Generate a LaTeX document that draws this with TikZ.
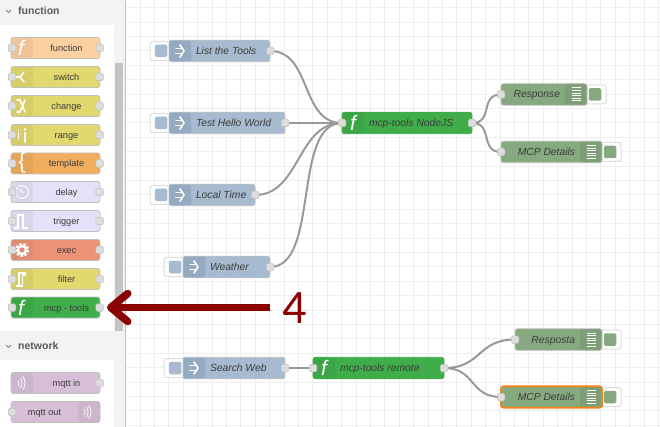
\documentclass[tikz,border=0pt]{standalone}
\usepackage{fontspec}
\setmainfont{Liberation Sans}
\newfontfamily\numfont{Carlito}
\usetikzlibrary{arrows.meta,backgrounds}

\definecolor{gridc}{HTML}{EEEEEE}
\definecolor{headc}{HTML}{F3F3F3}
\definecolor{scrollc}{HTML}{C4C4C4}
\definecolor{labelc}{HTML}{3C3C3C}
\definecolor{edgec}{HTML}{C0C0C0}
\definecolor{wirec}{HTML}{999999}
\definecolor{portc}{HTML}{DDDDDD}
\definecolor{funcc}{HTML}{FDD0A2}
\definecolor{funcd}{HTML}{F0C498}
\definecolor{yelc}{HTML}{E2D96E}
\definecolor{yeld}{HTML}{D6CE68}
\definecolor{tempc}{HTML}{F0AE5E}
\definecolor{tempd}{HTML}{E4A559}
\definecolor{lavc}{HTML}{E6E0F8}
\definecolor{lavd}{HTML}{DAD5EB}
\definecolor{execc}{HTML}{EC9377}
\definecolor{execd}{HTML}{E08C71}
\definecolor{mcpc}{HTML}{3FAD4A}
\definecolor{mcpd}{HTML}{3CA546}
\definecolor{mqttc}{HTML}{D8BFD8}
\definecolor{mqttd}{HTML}{CDB5CD}
\definecolor{injc}{HTML}{A6BBCF}
\definecolor{injd}{HTML}{94AAC0}
\definecolor{dbgc}{HTML}{87A980}
\definecolor{dbgd}{HTML}{7D9E77}
\definecolor{arrowc}{HTML}{8B0000}
\definecolor{selc}{HTML}{FF7F0E}

\tikzset{
  flownode/.style={rectangle,rounded corners=2.5pt,draw=edgec,line width=0.8pt,
    minimum height=21.5pt,inner sep=0pt,text=labelc,text height=8pt,text depth=1pt,
    font=\fontsize{10.3}{12}\selectfont\itshape},
  palnode/.style={flownode,minimum height=21pt,minimum width=89pt,font=\fontsize{9.2}{11}\selectfont},
  tableft/.style 2 args={fill=#1,path picture={\fill[#2] (path picture bounding box.north west)
    rectangle ([xshift=22pt]path picture bounding box.south west);}},
  tabright/.style 2 args={fill=#1,path picture={\fill[#2] (path picture bounding box.north east)
    rectangle ([xshift=-22pt]path picture bounding box.south east);}},
  port/.style={rectangle,rounded corners=1.5pt,draw=edgec,fill=portc,line width=0.5pt,
    minimum size=7.5pt,inner sep=0pt},
  button/.style={rectangle,rounded corners=2.5pt,draw=portc,fill=white,line width=1pt,
    minimum height=19pt,minimum width=22pt,inner sep=0pt},
  buttonin/.style={rectangle,rounded corners=1.5pt,fill=#1,minimum size=12.5pt,inner sep=0pt},
  wire/.style={draw=wirec,line width=2pt,to path={.. controls +(#1,0) and +(-#1,0) .. (\tikztotarget)}},
  header/.style={font=\fontsize{10.5}{12}\selectfont\bfseries,text=labelc!85!white,anchor=west,inner sep=0pt},
  icon/.style={white,line width=1.3pt,line cap=round,line join=round},
  pics/func/.style={code={\node[white,inner sep=0pt,font=\fontsize{21}{21}\selectfont] at (0,0) {$\mathit{f}$};}},
  pics/inject/.style={code={
    \draw[icon,line width=1.7pt] (-4,-2.5) -- (2,-2.5) (-4,2.5) -- (2,2.5);
    \draw[icon,line width=1.7pt] (0,-6) -- (4,0) -- (0,6);}},
  pics/lines/.style={code={\foreach \ly in {-6.5,-3.9,-1.3,1.3,3.9,6.5}
    \draw[icon,line width=1pt,line cap=butt] (-4.5,\ly) -- (4.5,\ly);}},
  pics/branch/.style={code={\draw[icon,line width=1.6pt] (-6,0) -- (-2,0) -- (2,-5) (-2,0) -- (2,5);}},
  pics/shuffle/.style={code={\draw[icon,line width=1.6pt] (-5,-6) -- (-2,-6) -- (3,6) (-5,6) -- (-2,6) -- (3,-6);}},
  pics/ranges/.style={code={\draw[icon,line width=1pt] (-4,-2) -- (-4,4) (-4,-5) -- (-4,-4.5);
    \draw[icon,line width=2pt] (3,-2) -- (3,7) (3,-6) -- (3,-5);}},
  pics/brace/.style={code={\node[white,inner sep=0pt,font=\fontsize{22}{22}\selectfont] at (0,-1) {\{};}},
  pics/clock/.style={code={\draw[white,opacity=.75,line width=1.2pt] (0,0) circle (6.5);
    \draw[white,opacity=.75,line width=1.2pt] (-2.5,-2.5) -- (1,1);}},
  pics/pulse/.style={code={\draw[white,line width=1.5pt,line join=miter] (-8,7) -- (-4,7) -- (-4,-6) -- (1,-6) -- (1,7) -- (6,7);}},
  pics/gear/.style={code={\draw[white,line width=2.2pt] (0,0) circle (4);
    \draw[white,line width=2pt,dash pattern=on 2.6pt off 1.6pt] (0,0) circle (6);}},
  pics/filt/.style={code={\draw[white,line width=1.3pt,line join=miter] (-5,7) -- (-2,7) -- (-2,-6) -- (4,-6) -- (4,-4) -- (1.5,-4) -- (1.5,7) -- (-2,7);}},
  pics/waves/.style={code={\foreach \wr in {5,8,11}
    \draw[white,opacity=.85,line width=.9pt] ([shift={(-8,0)}]-38:\wr) arc (-38:38:\wr);}}
}

\begin{document}
\begin{tikzpicture}[x=1pt,y=-1pt]
  \useasboundingbox (0,0) rectangle (660,427);

  % sidebar
  \fill[headc] (0,0) rectangle (125,427);
  \fill[white] (0,25) rectangle (114,331);
  \fill[white] (0,360) rectangle (114,427);
  \fill[scrollc] (115,63) rectangle (123,331);
  \draw[gridc!80!black,line width=0.8pt] (125.5,0) -- (125.5,427);
  \node[header] (funchead) at (18,11) {function};
  \node[header] (nethead) at (18,346) {network};
  \draw[gray,line width=0.8pt] (6,10) -- (8.5,12.5) -- (11,10);
  \draw[gray,line width=0.8pt] (6,345) -- (8.5,347.5) -- (11,345);

  % palette
  \foreach \nm/\yy/\cc/\cd/\txt/\ic/\ix in {pfunc/48/funcc/funcd/function/func/21,
      pswitch/77/yelc/yeld/switch/branch/22,
      pchange/106/yelc/yeld/change/shuffle/22,
      prange/135/yelc/yeld/range/ranges/22,
      ptemp/163.5/tempc/tempd/template/brace/22,
      pdelay/192/lavc/lavd/delay/clock/22,
      ptrig/221/lavc/lavd/trigger/pulse/22,
      pexec/250/execc/execd/exec/gear/22,
      pfilt/279/yelc/yeld/filter/filt/21,
      pmcp/307.5/mcpc/mcpd/mcp - tools/func/21} {
    \node[palnode,tableft={\cc}{\cd}] (\nm) at (55.5,\yy) {\hspace*{22pt}\txt};
    \pic at (\ix,\yy) {\ic};
    \node[port] (\nm-i) at (12,\yy) {};
    \node[port] (\nm-o) at (99.5,\yy) {};
  }
  \node[palnode,tableft={mqttc}{mqttd}] (pmqttin) at (55.5,383) {\hspace*{22pt}mqtt in};
  \pic at (22,383) {waves};
  \node[port] (pmqttin-o) at (99.5,383) {};
  \node[palnode,tabright={mqttc}{mqttd}] (pmqttout) at (55.5,412) {mqtt out\hspace*{22pt}};
  \pic at (88,412) {waves};
  \node[port] (pmqttout-i) at (12,412) {};

  % inject nodes
  \foreach \nm/\lft/\rgt/\yy/\txt in {list/169/270/51/List the Tools,
      hello/169/285/123/Test Hello World,
      time/169/255/195/Local Time,
      weather/183/270/267/Weather,
      search/183/285/368/Search Web} {
    \node[button] (\nm-btn) at (\lft-8,\yy) {};
    \node[buttonin=injc] (\nm-sq) at (\lft-8,\yy) {};
    \node[flownode,tableft={injc}{injd}] (\nm) at ({(\lft+\rgt)/2},\yy) {\makebox[\dimexpr\rgt pt-\lft pt\relax][l]{\hspace*{27pt}\txt}};
    \pic at (\lft+11,\yy) {inject};
    \node[port] (\nm-o) at (\rgt,\yy) {};
  }

  % function nodes
  \foreach \nm/\lft/\rgt/\yy/\txt in {nodejs/342/472/123/mcp-tools NodeJS,
      remote/313/444/368/mcp-tools remote} {
    \node[flownode,tableft={mcpc}{mcpd},draw=mcpc] (\nm) at ({(\lft+\rgt)/2},\yy) {\makebox[\dimexpr\rgt pt-\lft pt\relax][l]{\hspace*{27pt}\txt}};
    \pic at (\lft+11,\yy) {func};
    \node[port] (\nm-i) at (\lft,\yy) {};
    \node[port] (\nm-o) at (\rgt,\yy) {};
  }

  % debug nodes
  \foreach \nm/\lft/\rgt/\yy/\txt/\bc/\lw in {resp/501/587/94.5/Response/edgec/0.8,
      det/501/602/152/MCP Details/edgec/0.8,
      resposta/515/602/339.5/Resposta/edgec/0.8,
      detb/501/602/397/MCP Details/selc/1.6} {
    \node[button] (\nm-btn) at (\rgt+8,\yy) {};
    \node[buttonin=dbgc] (\nm-sq) at (\rgt+8,\yy) {};
    \node[flownode,tabright={dbgc}{dbgd},draw=\bc,line width=\lw pt] (\nm) at ({(\lft+\rgt)/2},\yy) {\makebox[\dimexpr\rgt pt-\lft pt\relax][r]{\txt\hspace*{27pt}}};
    \pic at (\rgt-10.5,\yy) {lines};
    \node[port] (\nm-i) at (\lft,\yy) {};
  }

  % callout
  \node[text=arrowc,font=\fontsize{48}{48}\selectfont\numfont,inner sep=0pt] (four) at (295,308) {4};
  \coordinate (arrowtail) at (270,307.5);
  \coordinate (arrowtip) at (107,307.5);
  \draw[arrowc,line width=7.5pt,-{Straight Barb[length=17pt,width=28pt,round]}] (arrowtail) -- (arrowtip);

  \begin{scope}[on background layer]
    \begin{scope}[gridc,line width=0.7pt]
      \foreach \gx in {0,...,36} \draw (140+14.4*\gx,0) -- (140+14.4*\gx,427);
      \foreach \gy in {0,...,29} \draw (126,7.5+14.4*\gy) -- (660,7.5+14.4*\gy);
    \end{scope}
    \path (list-o.center) edge[wire=42] (nodejs-i.center);
    \path (hello-o.center) edge[wire=20] (nodejs-i.center);
    \path (time-o.center) edge[wire=45] (nodejs-i.center);
    \path (weather-o.center) edge[wire=50] (nodejs-i.center);
    \path (nodejs-o.center) edge[wire=22] (resp-i.center);
    \path (nodejs-o.center) edge[wire=22] (det-i.center);
    \path (search-o.center) edge[wire=12] (remote-i.center);
    \path (remote-o.center) edge[wire=38] (resposta-i.center);
    \path (remote-o.center) edge[wire=32] (detb-i.center);
  \end{scope}
\end{tikzpicture}
\end{document}
